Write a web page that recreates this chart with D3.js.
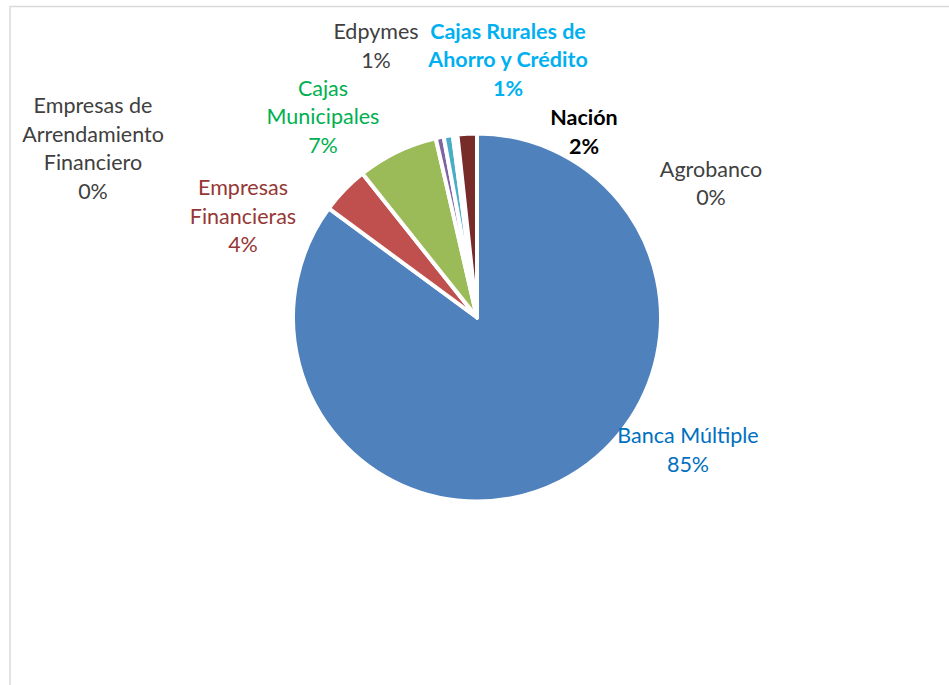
<!DOCTYPE html>
<html>
<head>
<meta charset="utf-8">
<script src="https://cdn.jsdelivr.net/npm/d3@7"></script>
<style>
  body { margin: 0; background: #fff; }
  svg { display: block; font-family: Lato, "Open Sans", sans-serif; }
</style>
</head>
<body>
<svg id="chart" width="949" height="685"></svg>
<script>
// slices, clockwise from 12 o'clock (Excel order)
var categories = ['Banca Múltiple', 'Empresas Financieras', 'Cajas Municipales', 'Edpymes',
                  'Cajas Rurales de Ahorro y Crédito', 'Agrobanco',
                  'Empresas de Arrendamiento Financiero', 'Nación'];
var shares = [85.1, 4.2, 7.1, 0.7, 0.8, 0.2, 0.2, 1.7];
var sliceColors = ['#4F81BD', '#C0504D', '#9BBB59', '#8064A2', '#4BACC6', '#F79646', '#2C4D75', '#772C2A'];

// data labels were dragged around by hand in the original, so place them here
var labelLayout = {
  'Banca Múltiple': { x: 688, y: 443, lines: ['Banca Múltiple'], color: '#0070C0', bold: false },
  'Empresas Financieras': { x: 243, y: 195, lines: ['Empresas', 'Financieras'], color: '#953735', bold: false },
  'Cajas Municipales': { x: 323, y: 95.5, lines: ['Cajas', 'Municipales'], color: '#00B050', bold: false },
  'Edpymes': { x: 376, y: 39, lines: ['Edpymes'], color: '#404040', bold: false },
  'Cajas Rurales de Ahorro y Crédito': { x: 508, y: 38.5, lines: ['Cajas Rurales de', 'Ahorro y Crédito'], color: '#00B0F0', bold: true },
  'Agrobanco': { x: 711, y: 176.5, lines: ['Agrobanco'], color: '#404040', bold: false },
  'Empresas de Arrendamiento Financiero': { x: 93, y: 113, lines: ['Empresas de', 'Arrendamiento', 'Financiero'], color: '#404040', bold: false },
  'Nación': { x: 584, y: 125, lines: ['Nación'], color: '#000000', bold: true }
};

var svg = d3.select('#chart');
var cx = 477, cy = 317.5, radius = 184;
var lineGap = 28.5;

// chart area border (only the top and left edges show inside the picture)
svg.append('rect')
  .attr('x', 10)
  .attr('y', 6.5)
  .attr('width', 1000)
  .attr('height', 760)
  .attr('fill', 'none')
  .attr('stroke', '#D9D9D9')
  .attr('stroke-width', 1.5);

var data = categories.map(function(c, i) {
  return { name: c, value: shares[i], color: sliceColors[i] };
});

var pie = d3.pie()
  .sort(null)
  .value(function(d) { return d.value; });

var arc = d3.arc()
  .innerRadius(0)
  .outerRadius(radius);

var g = svg.append('g')
  .attr('transform', 'translate(' + cx + ',' + cy + ')');

g.selectAll('path')
  .data(pie(data))
  .enter()
  .append('path')
  .attr('d', arc)
  .attr('fill', function(d) { return d.data.color; })
  .attr('stroke', '#fff')
  .attr('stroke-width', 4)
  .attr('stroke-linejoin', 'round');

// labels
data.forEach(function(d) {
  var lay = labelLayout[d.name];
  var lines = lay.lines.concat([Math.round(d.value) + '%']);
  var t = svg.append('text')
    .attr('text-anchor', 'middle')
    .attr('font-size', 21.5)
    .attr('font-weight', lay.bold ? 'bold' : 'normal')
    .attr('fill', lay.color);
  lines.forEach(function(l, i) {
    t.append('tspan')
      .attr('x', lay.x)
      .attr('y', lay.y + i * lineGap)
      .text(l);
  });
});
</script>
</body>
</html>
